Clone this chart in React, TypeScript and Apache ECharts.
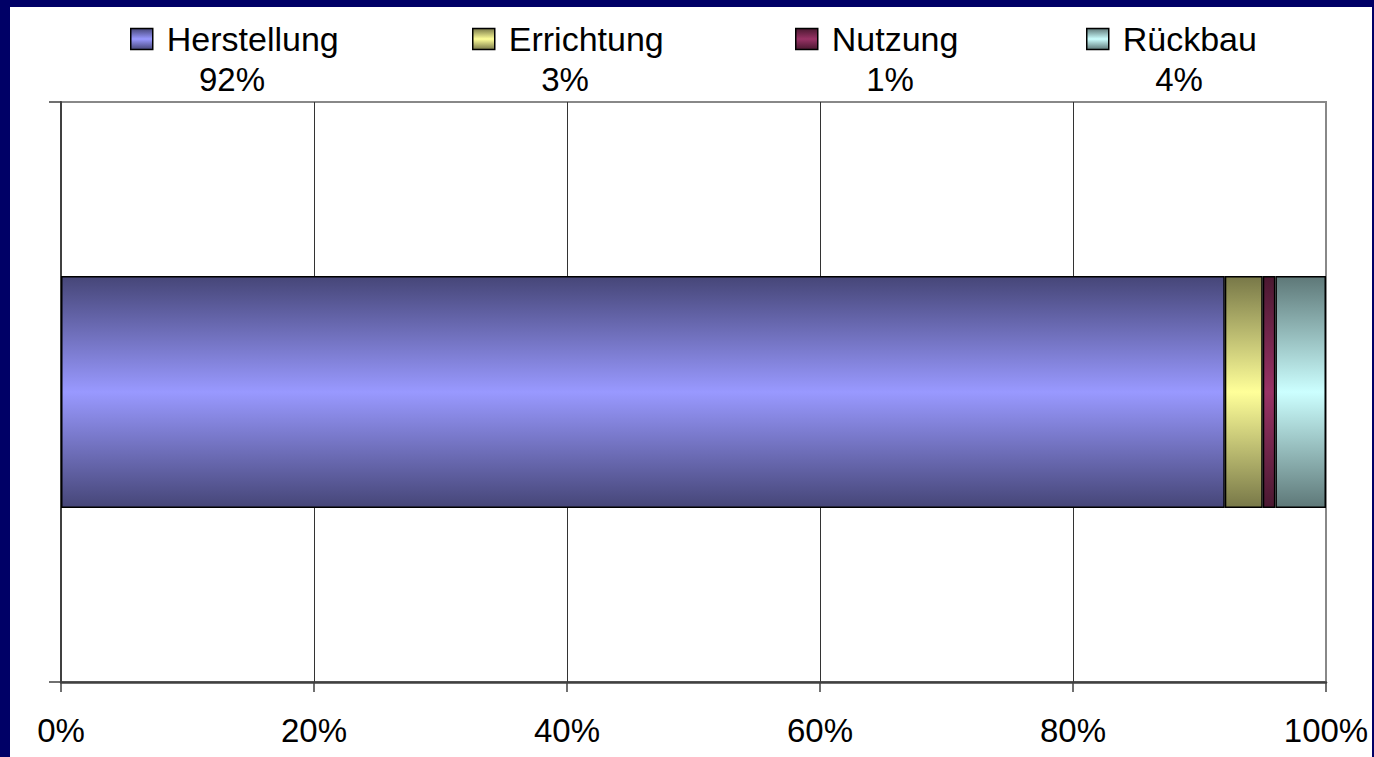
import React, { useEffect, useRef } from "react";
import * as echarts from "echarts";

// Phases of the life cycle and their share of the total (percent)
const phases = ["Herstellung", "Errichtung", "Nutzung", "Rückbau"];
const shares = [92, 3, 1, 4];
const categories = ["Gesamt"];
const axisTicks = [0, 20, 40, 60, 80, 100];

// Edge / centre tones for the cylinder-like shading of each phase
const edgeColors = ["#464678", "#787848", "#4a1830", "#5e7878"];
const centreColors = ["#9999ff", "#ffff99", "#993366", "#ccffff"];

// Horizontal placement of each legend entry and its share label
const legendLefts = [120, 462, 785, 1076];
const shareCentres = [222, 555, 880, 1169];

const FONT = "'Liberation Sans', Arial, sans-serif";

function shade(i: number) {
  return new echarts.graphic.LinearGradient(0, 0, 0, 1, [
    { offset: 0, color: edgeColors[i] },
    { offset: 0.5, color: centreColors[i] },
    { offset: 1, color: edgeColors[i] },
  ]);
}

export default function App() {
  const ref = useRef<HTMLDivElement>(null);

  useEffect(() => {
    if (!ref.current) return;
    const chart = echarts.init(ref.current, null, { renderer: "svg" });

    const series = phases.map((name, i) => ({
      name,
      type: "bar",
      stack: "total",
      barWidth: "40%",
      data: [shares[i]],
      itemStyle: { color: shade(i), borderColor: "#000", borderWidth: 1.5 },
    }));

    const legends = phases.map((name, i) => ({
      data: [name],
      left: legendLefts[i],
      top: 15,
      padding: 0,
      icon: "rect",
      itemWidth: 22,
      itemHeight: 21,
      itemStyle: { borderColor: "#000", borderWidth: 1.5 },
      textStyle: {
        fontSize: 34,
        color: "#000",
        fontFamily: FONT,
        padding: [0, 0, 0, 9],
      },
      selectedMode: false,
    }));

    const shareLabels = phases.map((_, i) => ({
      type: "text",
      x: shareCentres[i],
      y: 72,
      style: {
        text: `${shares[i]}%`,
        fontSize: 33,
        fontFamily: FONT,
        fill: "#000",
        textAlign: "center",
        textVerticalAlign: "middle",
      },
    }));

    chart.setOption({
      animation: false,
      legend: legends,
      graphic: shareLabels,
      grid: {
        left: 51,
        right: 46,
        top: 95,
        bottom: 75,
        show: true,
        borderColor: "#888",
        borderWidth: 2,
        backgroundColor: "transparent",
      },
      xAxis: {
        type: "value",
        min: axisTicks[0],
        max: axisTicks[axisTicks.length - 1],
        interval: 20,
        axisLine: { show: true, lineStyle: { color: "#404040", width: 2.5 } },
        axisTick: {
          show: true,
          length: 10,
          lineStyle: { color: "#404040", width: 1.5 },
        },
        splitLine: {
          show: true,
          showMinLine: false,
          showMaxLine: false,
          lineStyle: { color: "#333", width: 1 },
        },
        axisLabel: {
          formatter: "{value}%",
          fontSize: 33,
          color: "#000",
          fontFamily: FONT,
          margin: 32,
        },
      },
      yAxis: {
        type: "category",
        data: categories,
        axisLine: { show: true, lineStyle: { color: "#404040", width: 2 } },
        axisTick: {
          show: true,
          length: 12,
          lineStyle: { color: "#404040", width: 1.5 },
        },
        axisLabel: { show: false },
        splitLine: { show: false },
      },
      series,
    });

    return () => chart.dispose();
  }, []);

  return (
    <div
      style={{
        position: "fixed",
        left: 0,
        top: 0,
        width: 1374,
        height: 757,
        background: "#000066",
      }}
    >
      <div
        style={{
          position: "absolute",
          left: 10,
          top: 7,
          width: 1362,
          height: 750,
          background: "#ffffff",
        }}
      >
        <div ref={ref} style={{ width: 1362, height: 750 }} />
      </div>
    </div>
  );
}
